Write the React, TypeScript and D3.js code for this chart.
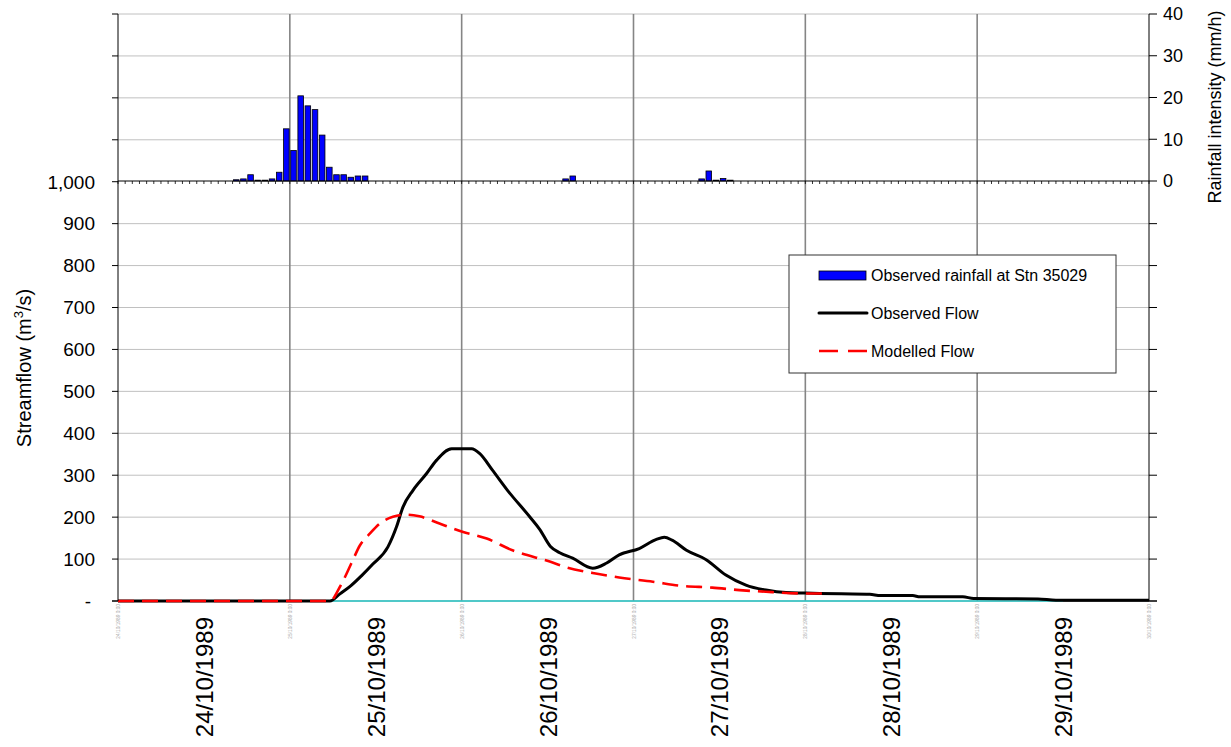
import React from 'react';
import * as d3 from 'd3';

// hourly rainfall (mm/h), hour offsets from 24/10/1989 00:00
const rainHours = [16, 17, 18, 19, 20, 21, 22, 23, 24, 25, 26, 27, 28, 29, 30, 31, 32, 33, 34, 62, 63, 81, 82, 83, 84, 85];
const rainValues = [0.3, 0.5, 1.5, 0.2, 0.2, 0.5, 2.1, 12.5, 7.3, 20.4, 18, 17.1, 11, 3.3, 1.5, 1.5, 0.9, 1.2, 1.2, 0.5, 1.2, 0.5, 2.4, 0.2, 0.6, 0.2];

// observed streamflow (m3/s)
const obsHours = [0, 29.6, 31, 32.5, 34, 35.6, 37.7, 38.9, 39.8, 41.2, 43.1, 44.5, 46.6, 49.4, 50.5, 52.3, 54.4, 57.5, 58.9, 60.4, 61.7, 63.5, 66.3, 68.2, 70, 72.8, 75.2, 76.3, 77.4, 79.4, 82.2, 84.9, 87.7, 90.5, 93.3, 96, 101, 105, 106.5, 111, 112, 118, 119.5, 128.5, 131, 144];
const obsValues = [0, 0, 17, 36, 60, 88, 129, 177, 224, 264, 304, 336, 363, 363, 352, 312, 264, 201, 171, 130, 115, 102, 78, 90, 110, 125, 147, 152, 145, 121, 98, 62, 38, 26, 20, 19, 17, 16, 13, 13, 10, 10, 6, 5, 2, 2];

// modelled streamflow (m3/s)
const modHours = [0, 29.6, 31, 32.6, 33.8, 35.2, 36.6, 38.4, 40.3, 42.1, 44.9, 48.1, 51.5, 55.1, 60.3, 62.7, 66.3, 70, 74.7, 78.8, 83, 86.8, 90.5, 96.1, 99.3];
const modValues = [0, 0, 34, 90, 133, 161, 185, 201, 206, 202, 185, 165, 149, 121, 94, 80, 67, 56, 46, 36, 32, 26, 22, 18, 18];

// zero base series (cyan)
const baseHours = [12, 132];
const baseValues = [0, 0];

const dayLabels = ['24/10/1989', '25/10/1989', '26/10/1989', '27/10/1989', '28/10/1989', '29/10/1989'];
const flowTicks = [0, 100, 200, 300, 400, 500, 600, 700, 800, 900, 1000, 1100, 1200, 1300, 1400];
const rainTicks = [0, 10, 20, 30, 40];

const START = new Date(1989, 9, 24).getTime();
const toDate = (h: number) => new Date(START + h * 3600e3);

const App = () => {
  const x = d3.scaleTime().domain([toDate(0), toDate(144)]).range([118, 1149]);
  const yFlow = d3.scaleLinear().domain([0, 1400]).range([601, 14]);
  const yRain = d3.scaleLinear().domain([0, 40]).range([181, 14]);
  const hourW = x(toDate(1)) - x(toDate(0));

  const flowLine = d3.line<[number, number]>()
    .x(d => x(toDate(d[0])))
    .y(d => yFlow(d[1]))
    .curve(d3.curveMonotoneX);

  const obs = d3.zip(obsHours, obsValues) as [number, number][];
  const mod = d3.zip(modHours, modValues) as [number, number][];
  const base = d3.zip(baseHours, baseValues) as [number, number][];

  const font = '"Liberation Sans", Arial, sans-serif';
  const fmt = (v: number) => (v === 0 ? '-' : d3.format(',')(v));

  return (
    <svg width={1231} height={747} style={{ position: 'absolute', left: 0, top: 0, background: '#fff' }} fontFamily={font}>
      {/* horizontal gridlines */}
      {flowTicks.filter(t => t !== 0 && t !== 1000).map(t => (
        <line key={'h' + t} x1={118} x2={1149} y1={yFlow(t)} y2={yFlow(t)} stroke="#c0c0c0" strokeWidth={1} />
      ))}
      {/* vertical day gridlines */}
      {d3.range(1, 6).map(i => (
        <line key={'v' + i} x1={x(toDate(i * 24))} x2={x(toDate(i * 24))} y1={14} y2={601} stroke="#858585" strokeWidth={1.6} />
      ))}

      {/* rainfall bars */}
      {rainHours.map((h, i) => (
        <rect key={'r' + i} x={x(toDate(h)) + 0.9} width={hourW * 0.78} y={yRain(rainValues[i])}
          height={yRain(0) - yRain(rainValues[i])} fill="#0000ff" stroke="#000" strokeWidth={0.8} />
      ))}

      {/* rainfall x axis with hourly ticks */}
      <line x1={118} x2={1149} y1={181} y2={181} stroke="#000" strokeWidth={1} />
      {d3.range(0, 145).map(h => (
        <line key={'rt' + h} x1={x(toDate(h))} x2={x(toDate(h))} y1={181} y2={184} stroke="#000" strokeWidth={0.8} />
      ))}

      {/* bottom axis line */}
      <line x1={112} x2={1157} y1={601} y2={601} stroke="#000" strokeWidth={1} />

      {/* flow series */}
      <path d={flowLine(base) || ''} fill="none" stroke="#40e0e0" strokeWidth={1.6} />
      <path d={flowLine(obs) || ''} fill="none" stroke="#000" strokeWidth={3} strokeLinejoin="round" />
      <path d={flowLine(mod) || ''} fill="none" stroke="#ff0000" strokeWidth={2.6} strokeDasharray="16 8" />

      {/* left axis */}
      <line x1={118} x2={118} y1={14} y2={601} stroke="#000" strokeWidth={1} />
      {flowTicks.map(t => (
        <g key={'lt' + t}>
          <line x1={112} x2={118} y1={yFlow(t)} y2={yFlow(t)} stroke="#000" strokeWidth={1} />
          {t <= 1000 && (
            <text x={t === 0 ? 91 : 95} y={yFlow(t)} dy="0.36em" textAnchor="end" fontSize={19} fill="#000">{fmt(t)}</text>
          )}
        </g>
      ))}

      {/* right axis */}
      <line x1={1149} x2={1149} y1={14} y2={601} stroke="#000" strokeWidth={1} />
      {flowTicks.filter(t => t < 1000).map(t => (
        <line key={'rf' + t} x1={1149} x2={1157} y1={yFlow(t)} y2={yFlow(t)} stroke="#000" strokeWidth={1} />
      ))}
      {rainTicks.map(t => (
        <g key={'rr' + t}>
          <line x1={1149} x2={1157} y1={yRain(t)} y2={yRain(t)} stroke="#000" strokeWidth={1} />
          <text x={1163} y={yRain(t)} dy="0.36em" fontSize={18} fill="#000">{t}</text>
        </g>
      ))}

      {/* bottom axis labels */}
      {d3.range(0, 7).map(i => (
        <text key={'tiny' + i} transform={`translate(${x(toDate(i * 24)) + 2},604) rotate(-90)`} textAnchor="end"
          fontSize={4.8} fill="#aaa">{`${24 + i}/10/1989 0:00`}</text>
      ))}
      {dayLabels.map((d, i) => (
        <text key={'dl' + i} transform={`translate(${x(toDate(i * 24 + 12)) + 9},617) rotate(-90)`} textAnchor="end"
          fontSize={24} fill="#000">{d}</text>
      ))}

      {/* axis titles */}
      <text transform="translate(31,368) rotate(-90)" textAnchor="middle" fontSize={20} fill="#000">
        Streamflow (m<tspan dy={-8} fontSize={13}>3</tspan><tspan dy={8}>/s)</tspan>
      </text>
      <text transform="translate(1221,107) rotate(-90)" textAnchor="middle" fontSize={18} fill="#000">
        Rainfall intensity (mm/h)
      </text>

      {/* legend */}
      <g>
        <rect x={789} y={255} width={327} height={118} fill="#fff" stroke="#333" strokeWidth={1} />
        <rect x={819} y={271} width={47} height={9} fill="#0000ff" stroke="#000" strokeWidth={0.8} />
        <text x={871} y={275} dy="0.36em" fontSize={16}>Observed rainfall at Stn 35029</text>
        <line x1={819} x2={867} y1={313} y2={313} stroke="#000" strokeWidth={3} strokeLinecap="round" />
        <text x={871} y={313} dy="0.36em" fontSize={16}>Observed Flow</text>
        <line x1={819} x2={867} y1={351} y2={351} stroke="#ff0000" strokeWidth={2.6} strokeDasharray="19 10" />
        <text x={871} y={351} dy="0.36em" fontSize={16}>Modelled Flow</text>
      </g>
    </svg>
  );
};

export default App;
